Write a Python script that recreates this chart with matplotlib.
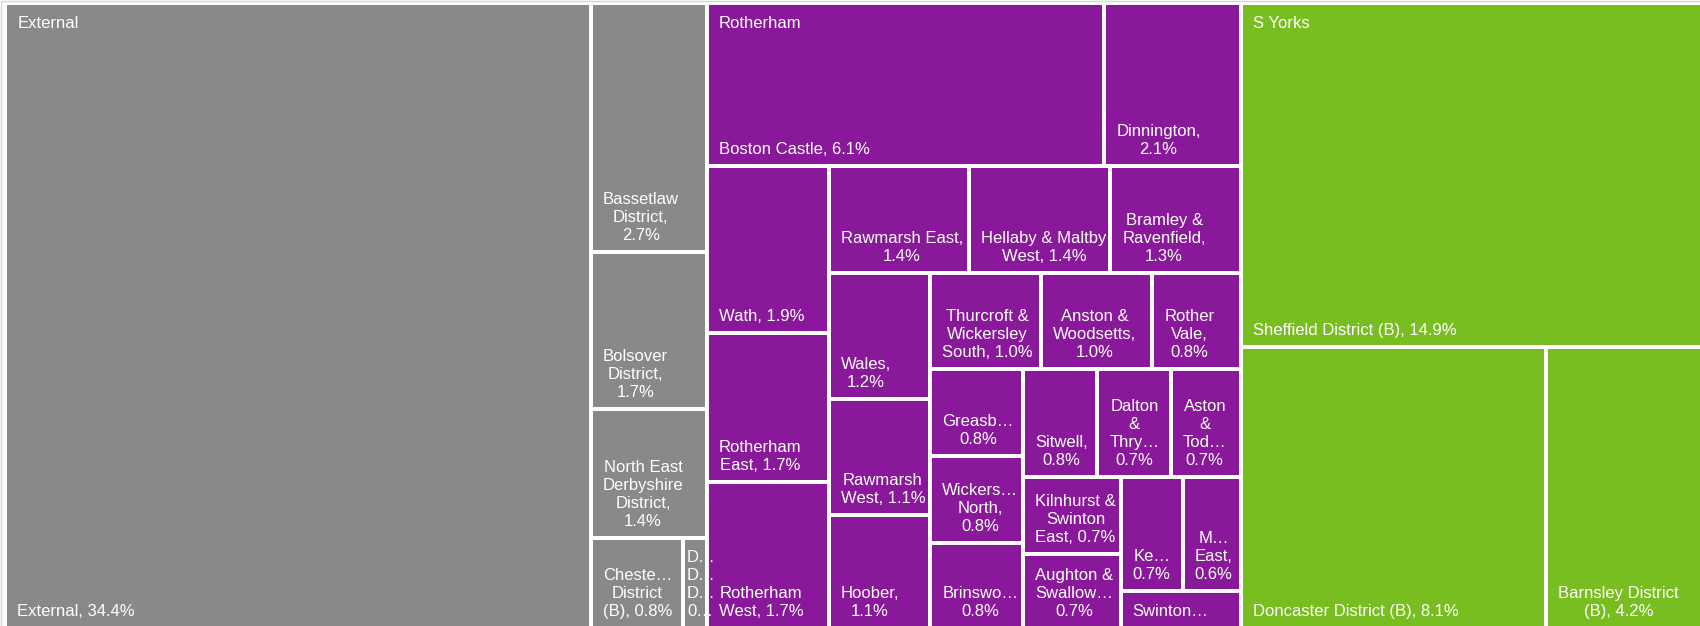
import matplotlib.pyplot as plt
from matplotlib.patches import Rectangle

# groups (top level of the treemap)
groups = ["External", "Rotherham", "S Yorks"]
group_colors = ["#898989", "#89189B", "#79BE21"]

external_values = [34.4, 2.7, 1.7, 1.4, 0.8, 0.2]
external_labels = [
    "External, 34.4%",
    "Bassetlaw\nDistrict,\n2.7%",
    "Bolsover\nDistrict,\n1.7%",
    "North East\nDerbyshire\nDistrict,\n1.4%",
    "Cheste\u2026\nDistrict\n(B), 0.8%",
    "D\u2026\nD\u2026\nD\u2026\n0\u2026",
]

rotherham_values = [6.1, 2.1, 1.9, 1.7, 1.7, 1.4, 1.4, 1.3, 1.2, 1.1, 1.1, 1.0, 1.0,
                    0.8, 0.76, 0.76, 0.76, 0.75, 0.745, 0.71, 0.7, 0.7, 0.66, 0.62, 0.45]
rotherham_labels = [
    "Boston Castle, 6.1%",
    "Dinnington,\n2.1%",
    "Wath, 1.9%",
    "Rotherham\nEast, 1.7%",
    "Rotherham\nWest, 1.7%",
    "Rawmarsh East,\n1.4%",
    "Hellaby & Maltby\nWest, 1.4%",
    "Bramley &\nRavenfield,\n1.3%",
    "Wales,\n1.2%",
    "Rawmarsh\nWest, 1.1%",
    "Hoober,\n1.1%",
    "Thurcroft &\nWickersley\nSouth, 1.0%",
    "Anston &\nWoodsetts,\n1.0%",
    "Rother\nVale,\n0.8%",
    "Greasb\u2026\n0.8%",
    "Wickers\u2026\nNorth,\n0.8%",
    "Brinswo\u2026\n0.8%",
    "Sitwell,\n0.8%",
    "Dalton\n&\nThry\u2026\n0.7%",
    "Aston\n&\nTod\u2026\n0.7%",
    "Kilnhurst &\nSwinton\nEast, 0.7%",
    "Aughton &\nSwallow\u2026\n0.7%",
    "Ke\u2026\n0.7%",
    "M\u2026\nEast,\n0.6%",
    "Swinton\u2026",
]

syorks_values = [14.9, 8.1, 4.2]
syorks_labels = [
    "Sheffield District (B), 14.9%",
    "Doncaster District (B), 8.1%",
    "Barnsley District\n(B), 4.2%",
]

group_values = [external_values, rotherham_values, syorks_values]
group_labels = [external_labels, rotherham_labels, syorks_labels]


def aspect(value, row_sum, side, scale):
    thick = row_sum * scale / side
    length = value * scale / thick
    return max(thick / length, length / thick)


def squarify(values, x, y, w, h):
    # strips along the short side; a strip is closed when adding the next
    # value makes the previous member less square
    scale = w * h / sum(values)
    rects = []
    i = 0
    while i < len(values):
        vertical = w >= h
        side = h if vertical else w
        row = [values[i]]
        j = i + 1
        while j < len(values):
            old = aspect(row[-1], sum(row), side, scale)
            new = aspect(row[-1], sum(row) + values[j], side, scale)
            if new > old:
                break
            row.append(values[j])
            j += 1
        thick = sum(row) * scale / side
        pos = 0
        for v in row:
            length = v * scale / thick
            if vertical:
                rects.append((x, y + pos, thick, length))
            else:
                rects.append((x + pos, y, length, thick))
            pos += length
        if vertical:
            x += thick
            w -= thick
        else:
            y += thick
            h -= thick
        i = j
    return rects


fig = plt.figure(figsize=(17, 6.26), dpi=100)
ax = fig.add_axes([0, 0, 1, 1])
ax.set_xlim(0, 1700)
ax.set_ylim(626, 0)
ax.axis("off")

# thin frame of the visual
ax.add_patch(Rectangle((1.5, 0.5), 1720, 640, fill=False, edgecolor="#d6d6d6", lw=1))

gap = 2.0
font = dict(family=["Liberation Sans", "DejaVu Sans"], size=12, color="white")

totals = [sum(v) for v in group_values]
group_rects = squarify(totals, 5.5, 2.5, 1698.5, 628)

for g, (gx, gy, gw, gh) in enumerate(group_rects):
    rects = squarify(group_values[g], gx, gy, gw, gh)
    for k, (x, y, w, h) in enumerate(rects):
        patch = Rectangle((x + gap, y + gap), w - 2 * gap, h - 2 * gap,
                          facecolor=group_colors[g], edgecolor="none")
        ax.add_patch(patch)
        box = patch.get_window_extent()
        pad = 10 if w > 40 else 1
        t = ax.text(x + gap + pad, min(y + h, 628) - gap - 7, group_labels[g][k],
                    ha="left", va="bottom", multialignment="center",
                    linespacing=1.25, **font)
        t.set_clip_box(box)
        if k == 0:
            ax.text(x + gap + 10, y + gap + 12, groups[g], ha="left", va="top", **font)

fig.savefig("out.png", dpi=100)
